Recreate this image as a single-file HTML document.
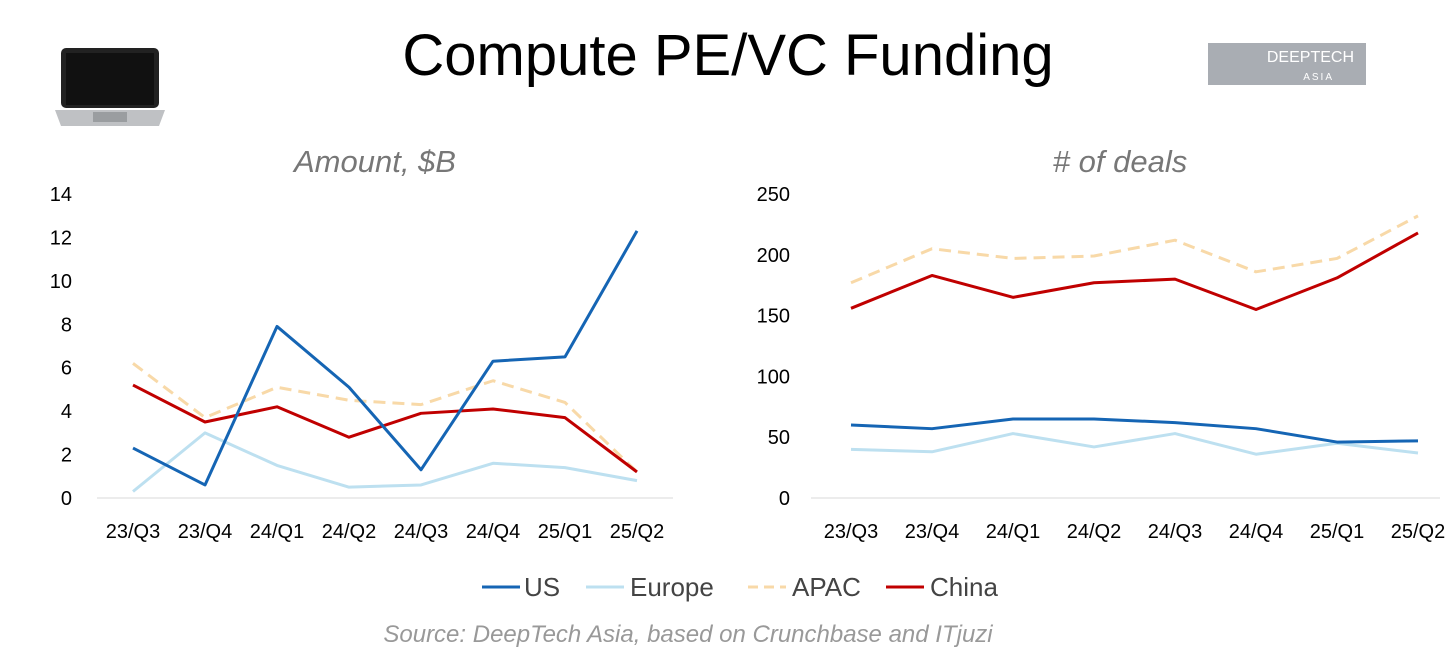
<!DOCTYPE html>
<html><head><meta charset="utf-8"><style>
body{margin:0;width:1456px;height:670px;background:#fff;font-family:"Liberation Sans",sans-serif;overflow:hidden;position:relative}
</style></head><body>
<div style="position:absolute;left:55px;top:46px;width:110px;height:84px">
<svg width="110" height="84"><rect x="6" y="2" width="98" height="60" rx="5" fill="#222"/><rect x="11" y="7" width="88" height="52" fill="#111"/><path d="M0 64 H110 L104 80 H6 Z" fill="#bfc1c4"/><rect x="38" y="66" width="34" height="10" fill="#9a9da0"/></svg></div>
<div style="position:absolute;left:0;width:1456px;top:22px;text-align:center;font-size:58px;color:#000">Compute PE/VC Funding</div>
<div style="position:absolute;left:1208px;top:43px;width:158px;height:42px;background:#a9adb3;color:#fff;font-size:16px;line-height:18px;text-align:right;padding-right:12px;box-sizing:border-box;padding-top:6px">DEEPTECH<br><span style="font-size:10px;letter-spacing:2px;padding-right:20px">ASIA</span></div>
<svg id="chart" width="1456" height="670" style="position:absolute;left:0;top:0">
<text x="375" y="172" font-size="31" font-style="italic" fill="#777" text-anchor="middle" font-family="Liberation Sans">Amount, $B</text>
<text x="1120" y="172" font-size="31" font-style="italic" fill="#777" text-anchor="middle" font-family="Liberation Sans"># of deals</text>
<g id="g"></g>
<g font-size="26" fill="#444" font-family="Liberation Sans">
<line x1="482" y1="587" x2="520" y2="587" stroke="#1565b4" stroke-width="3"/><text x="524" y="596">US</text>
<line x1="586" y1="587" x2="624" y2="587" stroke="#bde0f0" stroke-width="3"/><text x="630" y="596">Europe</text>
<line x1="748" y1="587" x2="786" y2="587" stroke="#f8d9a8" stroke-width="3" stroke-dasharray="10,6"/><text x="792" y="596">APAC</text>
<line x1="886" y1="587" x2="924" y2="587" stroke="#c00000" stroke-width="3"/><text x="930" y="596">China</text>
</g>
<text x="688" y="642" font-size="24" font-style="italic" fill="#999" text-anchor="middle" font-family="Liberation Sans">Source: DeepTech Asia, based on Crunchbase and ITjuzi</text>
</svg>
<script>
const categories=["23/Q3","23/Q4","24/Q1","24/Q2","24/Q3","24/Q4","25/Q1","25/Q2"];
const amountUS=[2.3,0.6,7.9,5.1,1.3,6.3,6.5,12.3];
const amountEurope=[0.3,3.0,1.5,0.5,0.6,1.6,1.4,0.8];
const amountAPAC=[6.2,3.7,5.1,4.5,4.3,5.4,4.4,1.2];
const amountChina=[5.2,3.5,4.2,2.8,3.9,4.1,3.7,1.2];
const dealsUS=[60,57,65,65,62,57,46,47];
const dealsEurope=[40,38,53,42,53,36,45,37];
const dealsAPAC=[177,205,197,199,212,186,197,232];
const dealsChina=[156,183,165,177,180,155,181,218];
const amountTicks=[0,2,4,6,8,10,12,14];
const dealsTicks=[0,50,100,150,200,250];
const g=document.getElementById('g');
const NS="http://www.w3.org/2000/svg";
function el(t,a){const e=document.createElementNS(NS,t);for(const k in a)e.setAttribute(k,a[k]);g.appendChild(e);return e;}
function chart(name,x0,step,axL,axR,tickX,ticks,max,series){
  const y=v=>498-v/max*304;const x=i=>x0+i*step;
  const ax=el('line',{x1:axL,x2:axR,y1:498,y2:498,stroke:'#d9d9d9','stroke-width':1});
  
  
  ticks.forEach(t=>{const e=el('text',{x:tickX,y:y(t)+7,'font-size':20,'text-anchor':'end','font-family':'Liberation Sans',fill:'#000'});e.textContent=t;
    
    });
  categories.forEach((c,i)=>{const e=el('text',{x:x(i),y:538,'font-size':20,'text-anchor':'middle','font-family':'Liberation Sans',fill:'#000'});e.textContent=c;
    
    });
  series.forEach(s=>{const p=el('polyline',{points:s.v.map((v,i)=>x(i)+','+y(v)).join(' '),fill:'none',stroke:s.c,'stroke-width':3,'stroke-dasharray':s.d||'none','stroke-linejoin':'round'});
    
    });
}
chart('amount',133,72,97,673,72,amountTicks,14,[
 {n:'apac',v:amountAPAC,c:'#f8d9a8',d:'12,7'},{n:'europe',v:amountEurope,c:'#bde0f0'},{n:'china',v:amountChina,c:'#c00000'},{n:'us',v:amountUS,c:'#1565b4'}]);
chart('deals',851,81,811,1440,790,dealsTicks,250,[
 {n:'apac',v:dealsAPAC,c:'#f8d9a8',d:'12,7'},{n:'europe',v:dealsEurope,c:'#bde0f0'},{n:'china',v:dealsChina,c:'#c00000'},{n:'us',v:dealsUS,c:'#1565b4'}]);
</script>
</body></html>
